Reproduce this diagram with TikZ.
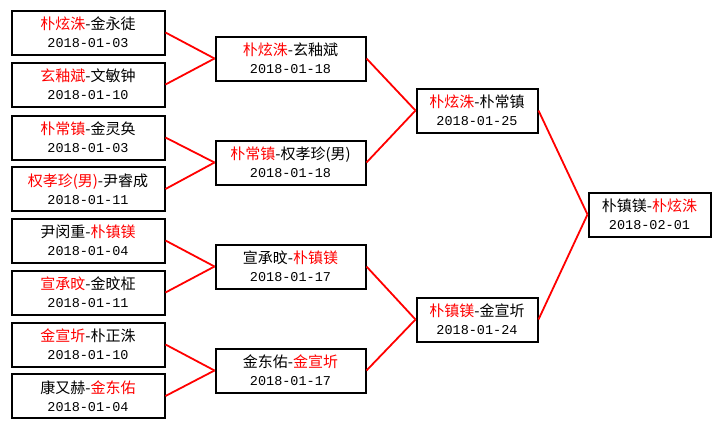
\documentclass[tikz,border=0pt]{standalone}
\usepackage{fontspec}
\setmainfont{Noto Sans CJK SC}
\newfontfamily\datefont{Liberation Mono}[Scale=0.9]
\usepackage{tikz}
\usetikzlibrary{positioning}

\newcommand{\winner}[1]{\textcolor{red}{#1}}

\begin{document}
\begin{tikzpicture}[x=1pt, y=-1pt,
    match/.style={draw, line width=2pt, minimum height=44pt, inner sep=0pt, align=center,
        font=\fontsize{15}{18}\selectfont},
    round1/.style={match, minimum width=153pt},
    round2/.style={match, minimum width=150pt},
    round3/.style={match, minimum width=121pt},
    final/.style={match, minimum width=122pt},
    link/.style={red, line width=1.8pt}
]
\useasboundingbox[fill=white] (0,0) rectangle (721,429);

% first round
\node[round1] (a1) at (88,32.5) {\winner{朴炫洙}-金永徒\\{\datefont 2018-01-03}};
\node[round1] (a2) at (88,84.5) {\winner{玄釉斌}-文敏钟\\{\datefont 2018-01-10}};
\node[round1] (a3) at (88,137.5) {\winner{朴常镇}-金灵奂\\{\datefont 2018-01-03}};
\node[round1] (a4) at (88,189) {\winner{权孝珍(男)}-尹睿成\\{\datefont 2018-01-11}};
\node[round1] (a5) at (88,240.5) {尹闵重-\winner{朴镇镁}\\{\datefont 2018-01-04}};
\node[round1] (a6) at (88,292.5) {\winner{宣承旼}-金旼柾\\{\datefont 2018-01-11}};
\node[round1] (a7) at (88,344.5) {\winner{金宣圻}-朴正洙\\{\datefont 2018-01-10}};
\node[round1] (a8) at (88,396) {康又赫-\winner{金东佑}\\{\datefont 2018-01-04}};

% quarter finals
\node[round2] (b1) at (290.5,58.5) {\winner{朴炫洙}-玄釉斌\\{\datefont 2018-01-18}};
\node[round2] (b2) at (290.5,162.5) {\winner{朴常镇}-权孝珍(男)\\{\datefont 2018-01-18}};
\node[round2] (b3) at (290.5,266.5) {宣承旼-\winner{朴镇镁}\\{\datefont 2018-01-17}};
\node[round2] (b4) at (290.5,370.5) {金东佑-\winner{金宣圻}\\{\datefont 2018-01-17}};

% semi finals
\node[round3] (c1) at (477,110.5) {\winner{朴炫洙}-朴常镇\\{\datefont 2018-01-25}};
\node[round3] (c2) at (477,319.5) {\winner{朴镇镁}-金宣圻\\{\datefont 2018-01-24}};

% final
\node[final] (d1) at (649.5,214.5) {朴镇镁-\winner{朴炫洙}\\{\datefont 2018-02-01}};

\draw[link] (a1.east) -- (b1.west);
\draw[link] (a2.east) -- (b1.west);
\draw[link] (a3.east) -- (b2.west);
\draw[link] (a4.east) -- (b2.west);
\draw[link] (a5.east) -- (b3.west);
\draw[link] (a6.east) -- (b3.west);
\draw[link] (a7.east) -- (b4.west);
\draw[link] (a8.east) -- (b4.west);

\draw[link] (b1.east) -- (c1.west);
\draw[link] (b2.east) -- (c1.west);
\draw[link] (b3.east) -- (c2.west);
\draw[link] (b4.east) -- (c2.west);

\draw[link] (c1.east) -- (d1.west);
\draw[link] (c2.east) -- (d1.west);
\end{tikzpicture}
\end{document}
